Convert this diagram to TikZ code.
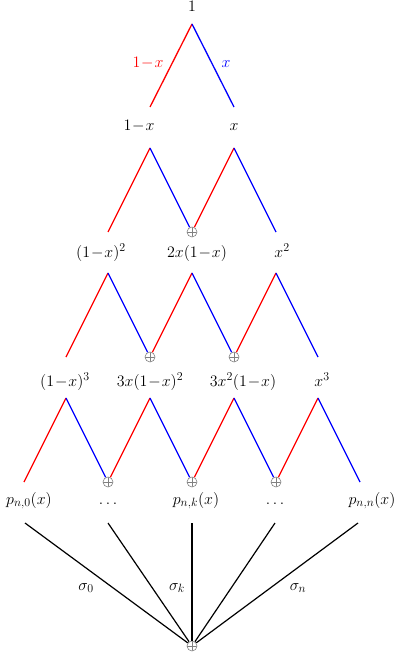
\RequirePackage{fix-cm}
\documentclass[tikz,border=0pt]{standalone}
\DeclareMathSizes{16}{16}{12}{9}
\newcommand{\om}{1\!-\!x}
\begin{document}
\begin{tikzpicture}[x=1pt,y=-1pt,
  lab/.style={anchor=base,inner sep=0pt,font=\fontsize{16}{19}\selectfont},
  redl/.style={draw=red,line width=1.3pt},
  bluel/.style={draw=blue,line width=1.3pt},
  fanl/.style={draw=black,line width=1.2pt},
  fanthick/.style={draw=black,line width=2.6pt},
  sumnode/.style={circle,draw=gray,line width=0.6pt,minimum size=10pt,inner sep=0pt,
    path picture={\draw[gray,line width=0.6pt] (path picture bounding box.north) -- (path picture bounding box.south)
      (path picture bounding box.west) -- (path picture bounding box.east);}}]
\useasboundingbox (0,0) rectangle (415,668);
% level 1
\coordinate (a1) at (192,24);
\coordinate (b10) at (150,107);
\coordinate (b11) at (234,107);
\draw[redl] (a1) -- (b10);
\draw[bluel] (a1) -- (b11);
% level 2
\coordinate (a20) at (150,148);
\coordinate (a21) at (234,148);
\coordinate (b20) at (108,232);
\node[sumnode] (b21) at (192,232) {};
\coordinate (b22) at (276,232);
\draw[redl] (a20) -- (b20);
\draw[bluel] (a20) -- (b21);
\draw[redl] (a21) -- (b21);
\draw[bluel] (a21) -- (b22);
% level 3
\coordinate (a30) at (108,273);
\coordinate (a31) at (192,273);
\coordinate (a32) at (276,273);
\coordinate (b30) at (66,357);
\node[sumnode] (b31) at (150,357) {};
\node[sumnode] (b32) at (234,357) {};
\coordinate (b33) at (318,357);
\draw[redl] (a30) -- (b30);
\draw[bluel] (a30) -- (b31);
\draw[redl] (a31) -- (b31);
\draw[bluel] (a31) -- (b32);
\draw[redl] (a32) -- (b32);
\draw[bluel] (a32) -- (b33);
% level 4
\coordinate (a40) at (66,398);
\coordinate (a41) at (150,398);
\coordinate (a42) at (234,398);
\coordinate (a43) at (318,398);
\coordinate (b40) at (24,482);
\node[sumnode] (b41) at (108,482) {};
\node[sumnode] (b42) at (192,482) {};
\node[sumnode] (b43) at (276,482) {};
\coordinate (b44) at (360,482);
\draw[redl] (a40) -- (b40);
\draw[bluel] (a40) -- (b41);
\draw[redl] (a41) -- (b41);
\draw[bluel] (a41) -- (b42);
\draw[redl] (a42) -- (b42);
\draw[bluel] (a42) -- (b43);
\draw[redl] (a43) -- (b43);
\draw[bluel] (a43) -- (b44);
% fan
\coordinate (f0) at (25,523);
\coordinate (f1) at (108,523);
\coordinate (f2) at (192,523);
\coordinate (f3) at (275,523);
\coordinate (f4) at (358,523);
\node[sumnode] (s) at (192,646) {};
\draw[fanl] (f0) -- (s);
\draw[fanl] (f1) -- (s);
\draw[fanthick] (f2) -- (s);
\draw[fanl] (f3) -- (s);
\draw[fanl] (f4) -- (s);
% labels
\node[lab] (t1) at (192,12) {$1$};
\node[lab,text=red] (e1) at (148,68) {$\om$};
\node[lab,text=blue] (e2) at (226,68) {$x$};
\node[lab] (l10) at (139,131) {$\om$};
\node[lab] (l11) at (234,131) {$x$};
\node[lab] (l20) at (101,257) {$(\om)^2$};
\node[lab] (l21) at (197,257) {$2x(\om)$};
\node[lab] (l22) at (282,257) {$x^2$};
\node[lab] (l30) at (65,386) {$(\om)^3$};
\node[lab] (l31) at (150,386) {$3x(\om)^2$};
\node[lab] (l32) at (243,386) {$3x^2(\om)$};
\node[lab] (l33) at (322,386) {$x^3$};
\node[lab] (l40) at (29,504) {$p_{n,0}(x)$};
\node[lab] (l41) at (108,504) {$\ldots$};
\node[lab] (l42) at (196,504) {$p_{n,k}(x)$};
\node[lab] (l43) at (275,504) {$\ldots$};
\node[lab] (l44) at (372,504) {$p_{n,n}(x)$};
\node[lab] (sg0) at (86,590) {$\sigma_0$};
\node[lab] (sgk) at (177,590) {$\sigma_k$};
\node[lab] (sgn) at (298,590) {$\sigma_n$};
\end{tikzpicture}
\end{document}
